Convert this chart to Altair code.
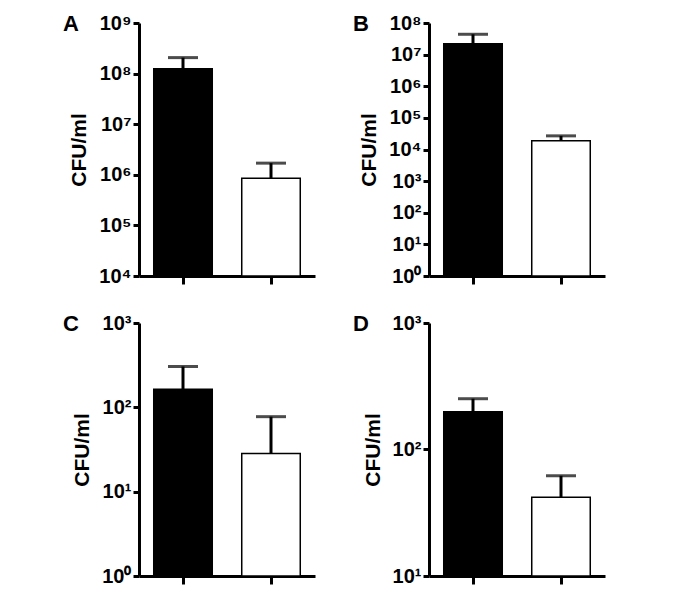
import altair as alt
import pandas as pd

groups = ["Group 1", "Group 2"]
colors = ["black", "white"]

a_mean = [1.24e8, 8.5e5]
a_err = [2.07e8, 1.7e6]
a_ticks = [1e4, 1e5, 1e6, 1e7, 1e8, 1e9]

b_mean = [2.2e7, 1.9e4]
b_err = [4.4e7, 2.7e4]
b_ticks = [1e0, 1e1, 1e2, 1e3, 1e4, 1e5, 1e6, 1e7, 1e8]

c_mean = [164, 28.3]
c_err = [305, 77.5]
c_ticks = [1e0, 1e1, 1e2, 1e3]

d_mean = [199, 42]
d_err = [252, 62]
d_ticks = [1e1, 1e2, 1e3]

FONT = "Liberation Sans"
SUP = "['⁰','¹','²','³','⁴','⁵','⁶','⁷','⁸','⁹']"
label_expr = "'10' + " + SUP + "[round(log(datum.value)/LN10)]"


def panel(letter, means, errs, ticks):
    df = pd.DataFrame({"group": groups, "mean": means, "err": errs})
    yscale = alt.Scale(type="log", domain=[ticks[0], ticks[-1]], nice=False)
    yaxis = alt.Axis(values=ticks, labelExpr=label_expr, title="CFU/ml",
                     tickSize=6, labelPadding=2, titlePadding=9,
                     labelFontSize=20, titleFontSize=21)
    x = alt.X("group:N", sort=groups,
              scale=alt.Scale(paddingInner=0.335, paddingOuter=0.1675),
              axis=alt.Axis(labels=False, title=None, tickSize=8))
    base = alt.Chart(df)
    bars = base.mark_bar(stroke="black", strokeWidth=1.5).encode(
        x=x,
        y=alt.Y("mean:Q", scale=yscale, axis=yaxis),
        y2=alt.datum(ticks[0]),
        color=alt.Color("group:N", scale=alt.Scale(domain=groups, range=colors), legend=None),
    )
    rule = base.mark_rule(color="black", strokeWidth=3).encode(
        x=x,
        y=alt.Y("mean:Q", scale=yscale, axis=yaxis),
        y2="err:Q",
    )
    cap = base.mark_tick(color="black", thickness=3, size=30).encode(
        x=x,
        y=alt.Y("err:Q", scale=yscale, axis=yaxis),
    )
    lab = alt.Chart(pd.DataFrame({"t": [letter]})).mark_text(
        font=FONT, fontWeight="bold", fontSize=22, align="left", baseline="alphabetic", color="black"
    ).encode(text="t:N", x=alt.value(-76), y=alt.value(8))
    return alt.layer(rule, cap, bars, lab).properties(width=176, height=253)


A = panel("A", a_mean, a_err, a_ticks)
B = panel("B", b_mean, b_err, b_ticks)
C = panel("C", c_mean, c_err, c_ticks)
D = panel("D", d_mean, d_err, d_ticks)

chart = alt.vconcat(
    alt.hconcat(A, B, spacing=38),
    alt.hconcat(C, D, spacing=38),
    spacing=27,
).properties(
    padding={"left": 55, "top": 5, "right": 5, "bottom": 5}
).configure_view(stroke=None).configure_axis(
    domainColor="black", domainWidth=3, tickColor="black", tickWidth=3,
    grid=False, labelFont=FONT, titleFont=FONT, labelFontWeight="bold",
    titleFontWeight="bold", labelColor="black", titleColor="black",
)

chart.save("out.html", embed_options={"renderer": "svg", "actions": False})
